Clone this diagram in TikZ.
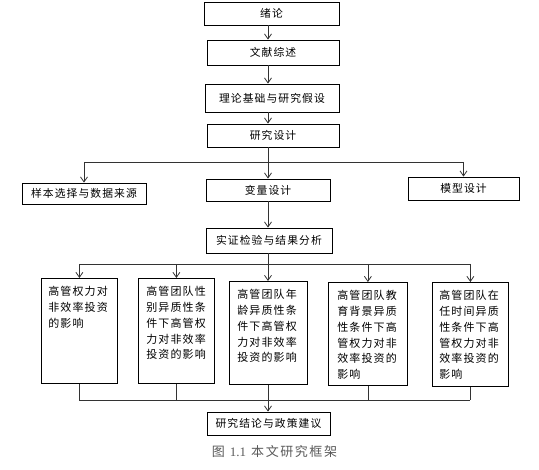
\documentclass[tikz,border=0pt]{standalone}
\usepackage{fontspec}
\setmainfont{Liberation Serif}
\newfontfamily\cjk[LetterSpace=10]{Noto Sans CJK SC}
\newfontfamily\cjkcap[LetterSpace=12]{Noto Sans CJK SC}
\usetikzlibrary{arrows.meta}
\newcommand\lbtext[3]{\parbox[c][#2pt][t]{#1pt}{\raggedright #3}}
\tikzset{
  tbox/.style={draw=black, line width=0.8pt, inner sep=0pt, font=\cjk\fontsize{10.8}{13}\selectfont},
  lbox/.style={draw=black, line width=0.8pt, inner ysep=8pt, anchor=north west, font=\cjk\fontsize{11}{15.8}\selectfont},
  conn/.style={draw=black!80, line width=0.8pt},
  arr/.style={conn, -{Straight Barb[length=5pt,width=7pt]}}
}
\begin{document}
\begin{tikzpicture}[x=1pt,y=-1pt]
\useasboundingbox (0,0) rectangle (539,470);
% top chain
\node[tbox, minimum width=135pt, minimum height=23pt] (a) at (271.5,13.5) {绪论};
\node[tbox, minimum width=132pt, minimum height=25pt] (b) at (273,52.5) {文献综述};
\node[tbox, minimum width=134pt, minimum height=28pt] (c) at (272,98) {理论基础与研究假设};
\node[tbox, minimum width=132pt, minimum height=23pt] (d) at (273,135.5) {研究设计};
\node[tbox, minimum width=124pt, minimum height=21pt] (e) at (84,193.5) {样本选择与数据来源};
\node[tbox, minimum width=124pt, minimum height=22pt] (f) at (268,190) {变量设计};
\node[tbox, minimum width=111pt, minimum height=23pt] (g) at (463.5,188.5) {模型设计};
\node[tbox, minimum width=126pt, minimum height=25pt] (h) at (269,240.5) {实证检验与结果分析};
% five boxes
\node[lbox, inner xsep=7pt] (p1) at (41,278) {\lbtext{62}{89}{高管权力对\\非效率投资\\的影响}};
\node[lbox, inner xsep=8pt] (p2) at (138,278) {\lbtext{60}{89}{高管团队性\\别异质性条\\件下高管权\\力对非效率\\投资的影响}};
\node[lbox, inner xsep=8pt] (p3) at (229,281) {\lbtext{62}{87}{高管团队年\\龄异质性条\\件下高管权\\力对非效率\\投资的影响}};
\node[lbox, inner xsep=9pt] (p4) at (328,282) {\lbtext{61}{87}{高管团队教\\育背景异质\\性条件下高\\管权力对非\\效率投资的\\影响}};
\node[lbox, inner xsep=7pt] (p5) at (432,282) {\lbtext{62}{88}{高管团队在\\任时间异质\\性条件下高\\管权力对非\\效率投资的\\影响}};
\node[tbox, minimum width=123pt, minimum height=23pt] (z) at (268.5,423.5) {研究结论与政策建议};
% caption
\node[text=black!65, font=\fontsize{13}{15}\selectfont] (cap) at (274.5,452) {{\cjkcap 图}\hspace{5pt}1.1\hspace{5pt}{\cjkcap 本文研究框架}};
% connectors top
\draw[arr] (a.south -| 268,0) -- (b.north -| 268,0);
\draw[arr] (b.south -| 268,0) -- (c.north -| 268,0);
\draw[arr] (c.south -| 268,0) -- (d.north -| 268,0);
\coordinate (j1) at (268,162);
\draw[conn] (d.south -| j1) -- (j1);
\draw[conn] (e.north |- j1) -- (g.north |- j1);
\draw[arr] (e.north |- j1) -- (e.north);
\draw[arr] (j1) -- (f.north);
\draw[arr] (g.north |- j1) -- (g.north);
\draw[arr] (f.south) -- (h.north -| f.south);
% branch to five
\coordinate (j2) at (268,264);
\draw[conn] (h.south -| j2) -- (j2);
\draw[conn] (p1.north |- j2) -- (p5.north |- j2);
\draw[arr] (p1.north |- j2) -- (p1.north);
\draw[arr] (p2.north |- j2) -- (p2.north);
\draw[arr] (j2) -- (p3.north -| j2);
\draw[arr] (p4.north |- j2) -- (p4.north);
\draw[arr] (p5.north |- j2) -- (p5.north);
% join at bottom
\coordinate (j3) at (268,400);
\draw[conn] (p1.south) -- (p1.south |- j3);
\draw[conn] (p2.south) -- (p2.south |- j3);
\draw[conn] (p3.south -| j3) -- (j3);
\draw[conn] (p4.south) -- (p4.south |- j3);
\draw[conn] (p5.south) -- (p5.south |- j3);
\draw[conn] (p1.south |- j3) -- (p5.south |- j3);
\draw[arr] (j3) -- (z.north -| j3);
\end{tikzpicture}
\end{document}
